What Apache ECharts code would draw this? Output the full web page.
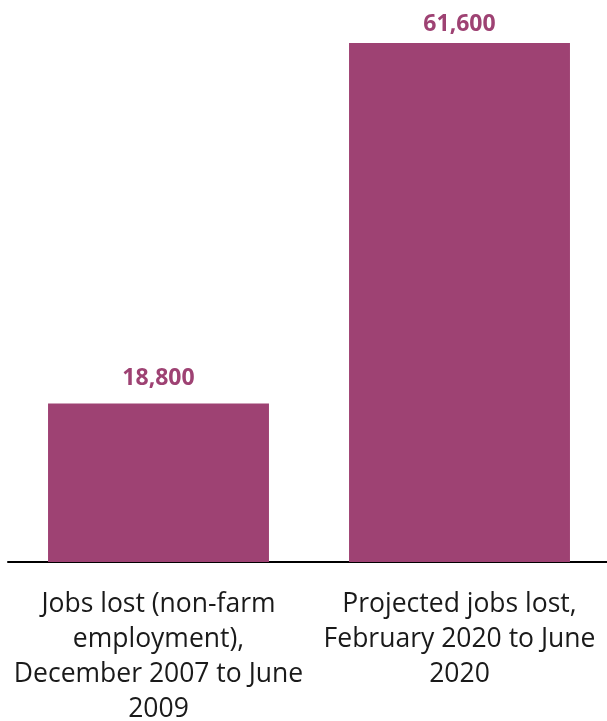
<!DOCTYPE html>
<html>
<head>
<meta charset="utf-8">
<script src="https://cdn.jsdelivr.net/npm/echarts@6/dist/echarts.min.js"></script>
<style>
  html, body { margin: 0; padding: 0; background: #fff; }
  #chart { width: 607px; height: 721px; }
</style>
</head>
<body>
<div id="chart"></div>
<script>
var categories = [
  'Jobs lost (non-farm\nemployment),\nDecember 2007 to June\n2009',
  'Projected jobs lost,\nFebruary 2020 to June\n2020'
];
var jobsLost = [18800, 61600];

// label gap above each bar differs slightly in the original
var labelGap = [14, 7];

var chart = echarts.init(document.getElementById('chart'));

chart.setOption({
  animation: false,
  grid: { left: 8, right: -3, top: 43, bottom: 159, outerBoundsMode: 'none' },
  xAxis: {
    type: 'category',
    data: categories,
    axisLine: { lineStyle: { color: '#000', width: 2 } },
    axisTick: { show: false },
    axisLabel: {
      interval: 0,
      margin: 25,
      fontFamily: 'Open Sans',
      fontSize: 26.5,
      lineHeight: 35,
      color: '#1a1a1a'
    }
  },
  yAxis: {
    type: 'value',
    min: 0,
    max: 61600,
    show: false
  },
  series: [{
    type: 'bar',
    data: jobsLost.map(function (v, i) {
      return { value: v, label: { distance: labelGap[i] } };
    }),
    barWidth: '73.4%',
    itemStyle: { color: '#9e4273' },
    label: {
      show: true,
      position: 'top',
      fontFamily: 'Open Sans',
      fontWeight: 'bold',
      fontSize: 23,
      color: '#9e4273',
      formatter: function (p) {
        return p.value.toLocaleString('en-US');
      }
    }
  }]
});
</script>
</body>
</html>
